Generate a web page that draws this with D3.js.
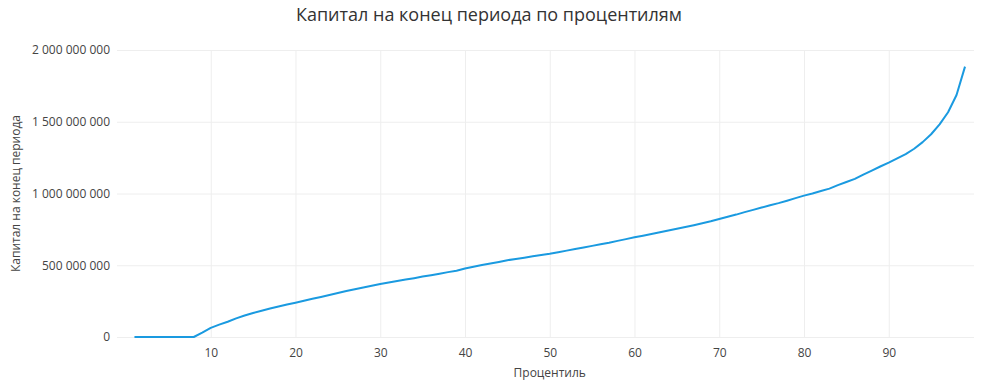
<!DOCTYPE html>
<html>
<head>
<meta charset="utf-8">
<script src="https://cdn.jsdelivr.net/npm/d3@7"></script>
<style>
    body { margin: 0; background: #fff; }
    svg { font-family: "Open Sans", sans-serif; }
</style>
</head>
<body>
<div id="chart"></div>
<script>
// percentile (x) and capital at end of period, in millions (y)
const percentiles = [
    1, 2, 3, 4, 5, 6, 7, 8, 9, 10,
    11, 12, 13, 14, 15, 16, 17, 18, 19, 20,
    21, 22, 23, 24, 25, 26, 27, 28, 29, 30,
    31, 32, 33, 34, 35, 36, 37, 38, 39, 40,
    41, 42, 43, 44, 45, 46, 47, 48, 49, 50,
    51, 52, 53, 54, 55, 56, 57, 58, 59, 60,
    61, 62, 63, 64, 65, 66, 67, 68, 69, 70,
    71, 72, 73, 74, 75, 76, 77, 78, 79, 80,
    81, 82, 83, 84, 85, 86, 87, 88, 89, 90,
    91, 92, 93, 94, 95, 96, 97, 98, 99
];
const capitalMln = [
    0, 0, 0, 0, 0, 0, 0, 0, 30, 64,
    86, 106, 130, 150, 167, 183, 198, 212, 226, 239,
    252, 266, 279, 293, 306, 320, 333, 345, 357, 369,
    380, 390, 400, 410, 421, 431, 441, 452, 462, 477,
    490, 501, 512, 523, 535, 544, 553, 562, 571, 580,
    591, 602, 613, 624, 635, 646, 657, 670, 682, 695,
    706, 718, 730, 742, 754, 766, 779, 792, 806, 822,
    838, 853, 870, 886, 902, 918, 933, 950, 968, 985,
    1000, 1017, 1034, 1058, 1080, 1102, 1132, 1160, 1188, 1215,
    1245, 1275, 1312, 1358, 1413, 1482, 1566, 1686, 1884
];
const xTicks = [10, 20, 30, 40, 50, 60, 70, 80, 90];
const yTicks = [0, 500000000, 1000000000, 1500000000, 2000000000];

const titleText = "Капитал на конец периода по процентилям";
const xTitle = "Процентиль";
const yTitle = "Капитал на конец периода";

const width = 990, height = 385;
const margins = {left: 117, right: 16, top: 50, bottom: 48};

const locale = d3.formatLocale({decimal: ",", thousands: " ", grouping: [3], currency: ["", ""]});
const fmt = locale.format(",d");

const svg = d3.select("#chart").append("svg")
    .attr("width", width).attr("height", height);

const x = d3.scaleLinear()
    .domain([-1.06, 100.06])
    .range([margins.left, width - margins.right]);
const y = d3.scaleLinear()
    .domain([0, 2000000000])
    .range([height - margins.bottom, margins.top]);

const data = percentiles.map((p, i) => ({x: p, y: capitalMln[i] * 1e6}));

// grid
const xAxis = svg.append("g")
    .attr("transform", `translate(0, ${margins.top})`)
    .call(d3.axisBottom(x).tickValues(xTicks)
        .tickSize(height - margins.bottom - margins.top).tickFormat(""));
xAxis.select(".domain").remove();
xAxis.selectAll("line").attr("stroke", "#eee").attr("stroke-width", 1);

const yAxis = svg.append("g")
    .attr("transform", `translate(${margins.left}, 0)`)
    .call(d3.axisRight(y).tickValues(yTicks)
        .tickSize(width - margins.left - margins.right).tickFormat(""));
yAxis.select(".domain").remove();
yAxis.selectAll("line").attr("stroke", "#eee").attr("stroke-width", 1);

// tick labels
const xLabels = svg.append("g")
    .attr("transform", `translate(0, ${height - margins.bottom})`)
    .call(d3.axisBottom(x).tickValues(xTicks).tickSize(0).tickPadding(11));
xLabels.select(".domain").remove();
xLabels.selectAll("text")
    .style("font-family", "\"Open Sans\", sans-serif")
    .style("font-size", "12px").attr("fill", "#444");

const yLabels = svg.append("g")
    .attr("transform", `translate(${margins.left - 7}, 0)`)
    .call(d3.axisLeft(y).tickValues(yTicks).tickSize(0).tickPadding(0).tickFormat(fmt));
yLabels.select(".domain").remove();
yLabels.selectAll("text")
    .style("font-family", "\"Open Sans\", sans-serif")
    .style("font-size", "12px").attr("fill", "#444");

// line
const line = d3.line().x(d => x(d.x)).y(d => y(d.y));
svg.append("path")
    .datum(data)
    .attr("d", line)
    .attr("fill", "none")
    .attr("stroke", "#1a9ae0")
    .attr("stroke-width", 2)
    .attr("stroke-linejoin", "round");

// titles
svg.append("text")
    .attr("x", 489).attr("y", 21)
    .attr("text-anchor", "middle")
    .style("font-size", "18px").attr("fill", "#333")
    .text(titleText);

svg.append("text")
    .attr("x", x(50)).attr("y", 377)
    .attr("text-anchor", "middle")
    .style("font-size", "12px").attr("fill", "#444")
    .text(xTitle);

svg.append("text")
    .attr("transform", `translate(20, ${(margins.top + height - margins.bottom) / 2}) rotate(-90)`)
    .attr("text-anchor", "middle")
    .style("font-size", "12px").attr("fill", "#444")
    .text(yTitle);
</script>
</body>
</html>
